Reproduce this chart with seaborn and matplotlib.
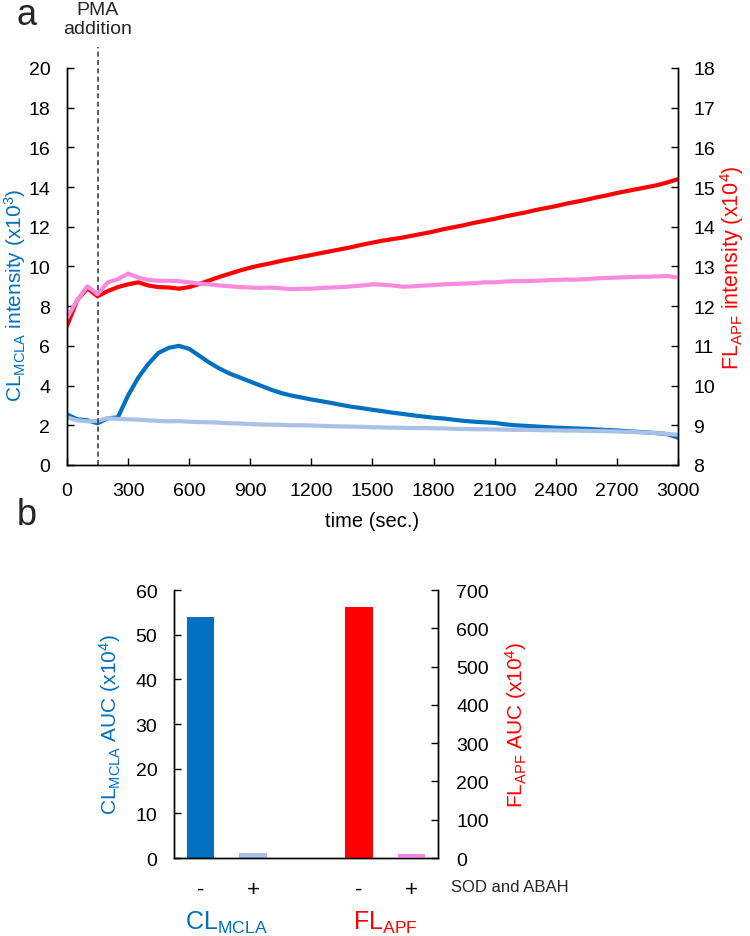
import numpy as np
import pandas as pd
import matplotlib
matplotlib.use("Agg")
import matplotlib.pyplot as plt
import seaborn as sns

# time axis of the traces (sec.), read every 50 s
time_s = list(range(0, 3001, 50))

# CL_MCLA intensity (x10^3), left axis
cl_pma = [2.55, 2.30, 2.25, 2.10, 2.35, 2.40, 3.50, 4.40, 5.10, 5.65,
          5.90, 6.00, 5.85, 5.50, 5.15, 4.85, 4.60, 4.40, 4.20, 4.00,
          3.80, 3.63, 3.50, 3.40, 3.30, 3.21, 3.12, 3.02, 2.93, 2.86,
          2.78, 2.71, 2.63, 2.57, 2.50, 2.44, 2.38, 2.34, 2.28, 2.22,
          2.18, 2.15, 2.12, 2.05, 2.00, 1.97, 1.94, 1.91, 1.88, 1.86,
          1.84, 1.82, 1.79, 1.76, 1.74, 1.70, 1.67, 1.64, 1.60, 1.55, 1.38]
cl_sod = [2.40, 2.25, 2.20, 2.22, 2.36, 2.32, 2.30, 2.28, 2.25, 2.22,
          2.20, 2.21, 2.18, 2.16, 2.15, 2.13, 2.10, 2.09, 2.06, 2.04,
          2.03, 2.02, 2.00, 2.00, 1.99, 1.97, 1.95, 1.94, 1.93, 1.92,
          1.90, 1.89, 1.88, 1.87, 1.86, 1.86, 1.85, 1.84, 1.82, 1.81,
          1.80, 1.80, 1.79, 1.78, 1.77, 1.77, 1.76, 1.75, 1.74, 1.73,
          1.73, 1.72, 1.71, 1.70, 1.69, 1.67, 1.65, 1.63, 1.60, 1.57, 1.52]

# FL_APF intensity (x10^4), right axis
fl_pma = [11.50, 12.15, 12.45, 12.25, 12.38, 12.48, 12.55, 12.60, 12.52, 12.48,
          12.47, 12.44, 12.48, 12.56, 12.65, 12.74, 12.82, 12.90, 12.97, 13.03,
          13.08, 13.14, 13.19, 13.24, 13.29, 13.34, 13.39, 13.44, 13.49, 13.55,
          13.60, 13.65, 13.69, 13.73, 13.78, 13.83, 13.88, 13.94, 13.99, 14.04,
          14.10, 14.15, 14.20, 14.26, 14.31, 14.36, 14.42, 14.47, 14.52, 14.58,
          14.63, 14.68, 14.74, 14.79, 14.85, 14.90, 14.95, 15.00, 15.05, 15.12, 15.20]
fl_sod = [11.70, 12.15, 12.50, 12.30, 12.60, 12.68, 12.82, 12.72, 12.66, 12.64,
          12.64, 12.63, 12.60, 12.57, 12.55, 12.52, 12.50, 12.48, 12.47, 12.46,
          12.47, 12.45, 12.43, 12.44, 12.44, 12.46, 12.47, 12.48, 12.50, 12.52,
          12.55, 12.54, 12.52, 12.49, 12.50, 12.52, 12.53, 12.55, 12.56, 12.57,
          12.58, 12.60, 12.60, 12.62, 12.63, 12.63, 12.64, 12.65, 12.66, 12.67,
          12.67, 12.68, 12.70, 12.71, 12.72, 12.73, 12.74, 12.74, 12.75, 12.76, 12.72]

pma_time = 150

# AUC bars
cl_auc = [54, 1.1]      # x10^4, left axis
fl_auc = [657, 10]      # x10^4, right axis
cond_labels = ["-", "+"]

BLUE = "#0070C0"
LBLUE = "#A9C1E6"
RED = "#FF0000"
PINK = "#F98AE0"

sns.set_theme(style="white")
plt.rcParams["font.family"] = ["Liberation Sans", "DejaVu Sans"]
plt.rcParams["mathtext.fontset"] = "custom"
plt.rcParams["mathtext.rm"] = "Liberation Sans"
plt.rcParams["mathtext.default"] = "regular"
plt.rcParams["axes.edgecolor"] = "black"
plt.rcParams["axes.linewidth"] = 1.0

fig = plt.figure(figsize=(7.5, 9.37), dpi=100)

# ---- panel a ----
ax = fig.add_axes([0.0893, 0.5027, 0.8147, 0.4237])
ax2 = ax.twinx()

sns.lineplot(x=time_s, y=cl_pma, ax=ax, color=BLUE, linewidth=3.0)
sns.lineplot(x=time_s, y=cl_sod, ax=ax, color=LBLUE, linewidth=3.0)
sns.lineplot(x=time_s, y=fl_pma, ax=ax2, color=RED, linewidth=3.0)
sns.lineplot(x=time_s, y=fl_sod, ax=ax2, color=PINK, linewidth=3.0)

ax.set_xlim(0, 3000)
ax.set_ylim(0, 20)
ax2.set_ylim(8, 18)
ax.set_xticks(range(0, 3001, 300))
ax.set_yticks(range(0, 21, 2))
ax2.set_yticks(range(8, 19, 1))

for a in (ax, ax2):
    a.spines["top"].set_visible(False)
    a.tick_params(direction="in", length=5, width=1, color="black",
                  labelsize=14, labelcolor="black")
ax.tick_params(axis="y", pad=12)
ax.tick_params(axis="x", pad=12, bottom=True)
ax.tick_params(axis="y", left=True)
ax2.tick_params(axis="y", right=True, pad=11)

ax.set_xlabel("time (sec.)", fontsize=14.5, color="black")
ax.xaxis.set_label_coords(0.5, -0.116)
ax.set_ylabel("CL$_{MCLA}$ intensity (x10$^3$)", fontsize=15, color=BLUE)
ax.yaxis.set_label_coords(-0.064, 0.43)
ax2.set_ylabel("FL$_{APF}$ intensity (x10$^4$)", fontsize=15.5, color=RED,
               rotation=90)
ax2.yaxis.set_label_coords(1.066, 0.5)
ax2.yaxis.label.set_verticalalignment("top")

ax.axvline(pma_time, ymin=0, ymax=1.053, clip_on=False, color="#404040",
           linestyle=(0, (3, 2)), linewidth=1.2)
ax.text(pma_time, 1.123, "PMA\naddition", transform=ax.get_xaxis_transform(),
        ha="center", va="center", fontsize=14, linespacing=1.1)

# ---- panel b ----
bx = fig.add_axes([0.232, 0.0832, 0.352, 0.286])
bx2 = bx.twinx()

df_cl = pd.DataFrame({"pos": [0, 1], "auc": cl_auc, "cond": ["CL-", "CL+"]})
df_fl = pd.DataFrame({"pos": [3, 4], "auc": fl_auc, "cond": ["FL-", "FL+"]})

sns.barplot(data=df_cl, x="pos", y="auc", hue="cond", palette=[BLUE, LBLUE],
            native_scale=True, width=0.52, saturation=1, errorbar=None,
            linewidth=0, legend=False, dodge=False, ax=bx)
sns.barplot(data=df_fl, x="pos", y="auc", hue="cond", palette=[RED, PINK],
            native_scale=True, width=0.52, saturation=1, errorbar=None,
            linewidth=0, legend=False, dodge=False, ax=bx2)

bx.set_xlim(-0.5, 4.5)
bx.set_ylim(0, 60)
bx2.set_ylim(0, 700)
bx.set_yticks(range(0, 61, 10))
bx2.set_yticks(range(0, 701, 100))
bx.set_xticks([0, 1, 3, 4])
bx.set_xticklabels(cond_labels + cond_labels)

for a in (bx, bx2):
    a.spines["top"].set_visible(False)
    a.tick_params(direction="in", length=5, width=1, color="black",
                  labelsize=14, labelcolor="black")
bx.tick_params(axis="x", length=0, pad=15, labelsize=16)
bx.tick_params(axis="y", left=True, pad=12)
bx2.tick_params(axis="y", right=True, pad=13)
bx.set_xlabel("")
bx2.set_xlabel("")

bx.set_ylabel("CL$_{MCLA}$ AUC (x10$^4$)", fontsize=15, color=BLUE)
bx.yaxis.set_label_coords(-0.195, 0.5)
bx2.set_ylabel("FL$_{APF}$ AUC (x10$^4$)", fontsize=15, color=RED, rotation=90)
bx2.yaxis.set_label_coords(1.248, 0.5)
bx2.yaxis.label.set_verticalalignment("top")

bx.text(4.75, -0.108, "SOD and ABAH", transform=bx.get_xaxis_transform(),
        ha="left", va="center", fontsize=12)
bx.text(0.5, -0.24, "CL$_{MCLA}$", transform=bx.get_xaxis_transform(),
        ha="center", va="center", fontsize=18, color=BLUE)
bx.text(3.5, -0.24, "FL$_{APF}$", transform=bx.get_xaxis_transform(),
        ha="center", va="center", fontsize=18, color=RED)

fig.text(0.036, 0.983, "a", fontsize=26, ha="center", va="center")
fig.text(0.036, 0.450, "b", fontsize=26, ha="center", va="center")

fig.savefig("out.png", dpi=100)
